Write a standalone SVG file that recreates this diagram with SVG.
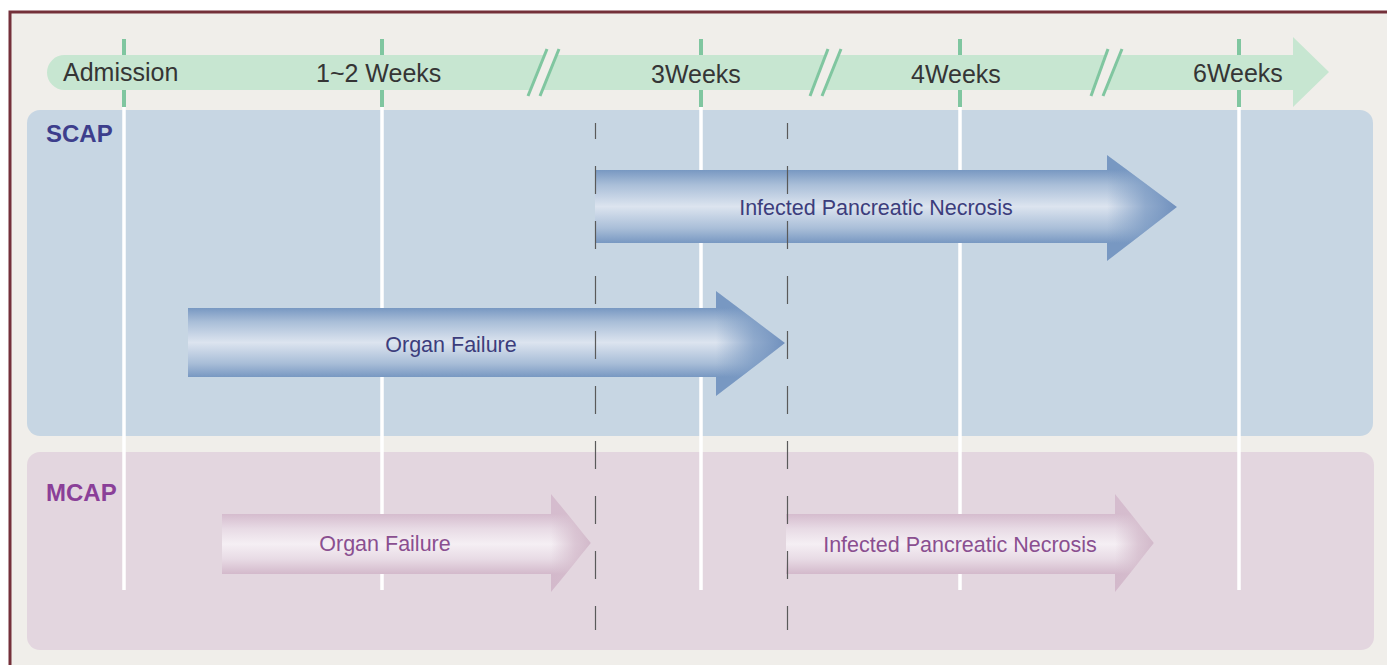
<svg xmlns="http://www.w3.org/2000/svg" width="1387" height="665" viewBox="0 0 1387 665">
<defs>
<style>
.tl{font-family:"Liberation Sans",Arial,sans-serif;font-size:25px;fill:#353535}
.lane{font-family:"Liberation Sans",Arial,sans-serif;font-size:24px;font-weight:bold}
.at{font-family:"Liberation Sans",Arial,sans-serif;font-size:21.5px;text-anchor:middle}
.tick{stroke:#80c6a0;stroke-width:4}
.wl{stroke:#ffffff;stroke-width:3.5}
.dash{stroke:#5a5a5a;stroke-width:1.2;stroke-dasharray:28 27}
.brk{stroke:#80c6a0;stroke-width:3}
</style>
<linearGradient id="bBody" x1="0" y1="0" x2="0" y2="1">
<stop offset="0" stop-color="#7898c2"/>
<stop offset="0.2" stop-color="#a9bed8"/>
<stop offset="0.5" stop-color="#dce4ef"/>
<stop offset="0.8" stop-color="#a9bed8"/>
<stop offset="1" stop-color="#7898c2"/>
</linearGradient>
<linearGradient id="bHead1" href="#bBody" gradientUnits="userSpaceOnUse" x1="0" y1="170" x2="0" y2="243"/>
<linearGradient id="bHead2" href="#bBody" gradientUnits="userSpaceOnUse" x1="0" y1="308" x2="0" y2="377"/>
<linearGradient id="bTip" x1="0" y1="0" x2="1" y2="0">
<stop offset="0" stop-color="#7898c2" stop-opacity="0"/>
<stop offset="0.55" stop-color="#7898c2" stop-opacity="0.75"/>
<stop offset="1" stop-color="#7090bd" stop-opacity="1"/>
</linearGradient>
<linearGradient id="pBody" x1="0" y1="0" x2="0" y2="1">
<stop offset="0" stop-color="#d5bcce"/>
<stop offset="0.25" stop-color="#e8dbe5"/>
<stop offset="0.5" stop-color="#f5eff4"/>
<stop offset="0.75" stop-color="#e8dbe5"/>
<stop offset="1" stop-color="#d3b9cb"/>
</linearGradient>
<linearGradient id="pHead" href="#pBody" gradientUnits="userSpaceOnUse" x1="0" y1="514" x2="0" y2="574"/>
<linearGradient id="pTip" x1="0" y1="0" x2="1" y2="0">
<stop offset="0" stop-color="#d5bdcd" stop-opacity="0"/>
<stop offset="0.6" stop-color="#d5bdcd" stop-opacity="0.8"/>
<stop offset="1" stop-color="#d2b9ca" stop-opacity="1"/>
</linearGradient>
</defs>

<rect x="0" y="0" width="1387" height="665" fill="#ffffff"/>
<rect x="10" y="12" width="1400" height="680" fill="#f0eeea" stroke="#74303a" stroke-width="3"/>

<g id="scap-panel">
<rect x="27" y="110" width="1346" height="326" rx="13" fill="#c7d6e3"/>
<text class="lane" x="46" y="142" fill="#3d3e8c">SCAP</text>
</g>
<g id="mcap-panel">
<rect x="27" y="452" width="1347" height="198" rx="13" fill="#e3d6df"/>
<text class="lane" x="46" y="501" fill="#8a3f98">MCAP</text>
</g>

<g id="gridlines">
<line class="wl" x1="124" y1="107" x2="124" y2="590"/>
<line class="wl" x1="382" y1="107" x2="382" y2="590"/>
<line class="wl" x1="701" y1="107" x2="701" y2="590"/>
<line class="wl" x1="960" y1="107" x2="960" y2="590"/>
<line class="wl" x1="1239" y1="107" x2="1239" y2="590"/>
<line class="tick" x1="124" y1="39" x2="124" y2="107"/>
<line class="tick" x1="382" y1="39" x2="382" y2="107"/>
<line class="tick" x1="701" y1="39" x2="701" y2="107"/>
<line class="tick" x1="960" y1="39" x2="960" y2="107"/>
<line class="tick" x1="1239" y1="39" x2="1239" y2="107"/>
</g>

<g id="timeline">
<path d="M64.5 55 H1293 V37 L1329 72 L1293 107 V90 H64.5 A17.5 17.5 0 0 1 64.5 55 Z" fill="#c7e6d1"/>
<polygon points="528,96 547,49 559,49 540,96" fill="#f0eeea"/>
<line class="brk" x1="528" y1="96" x2="547" y2="49"/>
<line class="brk" x1="540" y1="96" x2="559" y2="49"/>
<polygon points="810,96 828,49 841,49 822,96" fill="#f0eeea"/>
<line class="brk" x1="810" y1="96" x2="828" y2="49"/>
<line class="brk" x1="822" y1="96" x2="841" y2="49"/>
<polygon points="1091,96 1108,49 1122,49 1103,96" fill="#f0eeea"/>
<line class="brk" x1="1091" y1="96" x2="1108" y2="49"/>
<line class="brk" x1="1103" y1="96" x2="1122" y2="49"/>
<text class="tl" x="63" y="81">Admission</text>
<text class="tl" x="316" y="82">1~2 Weeks</text>
<text class="tl" x="651" y="83">3Weeks</text>
<text class="tl" x="911" y="83">4Weeks</text>
<text class="tl" x="1193" y="82">6Weeks</text>
</g>

<g id="scap-ipn">
<rect x="595" y="170" width="513" height="73" fill="url(#bBody)"/>
<polygon points="1107,155 1177,207 1107,261" fill="url(#bHead1)"/>
<polygon points="1107,155 1177,207 1107,261" fill="url(#bTip)"/>
</g>
<g id="scap-of">
<rect x="188" y="308" width="529" height="69" fill="url(#bBody)"/>
<polygon points="716,291 785,343 716,396" fill="url(#bHead2)"/>
<polygon points="716,291 785,343 716,396" fill="url(#bTip)"/>
</g>
<g id="mcap-of">
<rect x="222" y="514" width="330" height="60" fill="url(#pBody)"/>
<polygon points="551,494 591,543 551,592" fill="url(#pHead)"/>
<polygon points="551,494 591,543 551,592" fill="url(#pTip)"/>
</g>
<g id="mcap-ipn">
<rect x="786" y="514" width="330" height="60" fill="url(#pBody)"/>
<polygon points="1115,494 1154,543 1115,592" fill="url(#pHead)"/>
<polygon points="1115,494 1154,543 1115,592" fill="url(#pTip)"/>
</g>

<g id="connectors">
<line class="dash" x1="595.5" y1="123" x2="595.5" y2="630" stroke-dashoffset="12"/>
<line class="dash" x1="787.5" y1="123" x2="787.5" y2="630" stroke-dashoffset="12"/>
</g>

<g id="arrow-labels">
<text class="at" x="876" y="215" fill="#3c3d7c">Infected Pancreatic Necrosis</text>
<text class="at" x="451" y="352" fill="#3c3d7c">Organ Failure</text>
<text class="at" x="385" y="551" fill="#8a4f90">Organ Failure</text>
<text class="at" x="960" y="552" fill="#8a4f90">Infected Pancreatic Necrosis</text>
</g>
</svg>
